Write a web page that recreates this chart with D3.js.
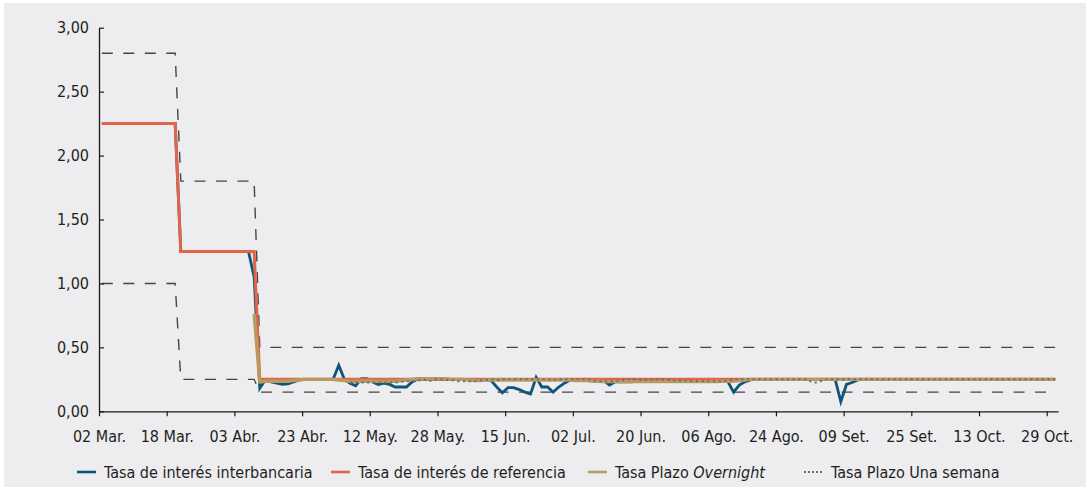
<!DOCTYPE html>
<html>
<head>
<meta charset="utf-8">
<script src="https://cdn.jsdelivr.net/npm/d3@7"></script>
<style>
  html, body { margin: 0; padding: 0; background: #fff; }
  svg { display: block; }
  text { font-family: "Liberation Sans Narrow", "DejaVu Sans Condensed", "Arial Narrow", sans-serif; fill: #231f20; }
</style>
</head>
<body>
<svg id="chart" width="1090" height="489"></svg>
<script>
// tick labels (one every 12 business days)
const xLabels = ["02 Mar.", "18 Mar.", "03 Abr.", "23 Abr.", "12 May.", "28 May.", "15 Jun.", "02 Jul.",
  "20 Jun.", "06 Ago.", "24 Ago.", "09 Set.", "25 Set.", "13 Oct.", "29 Oct."];
const yTicks = [0, 0.5, 1, 1.5, 2, 2.5, 3];

// daily series, 12 values per row
const refRate = [
  2.25, 2.25, 2.25, 2.25, 2.25, 2.25, 2.25, 2.25, 2.25, 2.25, 2.25, 2.25,
  2.25, 2.25, 1.25, 1.25, 1.25, 1.25, 1.25, 1.25, 1.25, 1.25, 1.25, 1.25,
  1.25, 1.25, 1.25, 1.25, 0.25, 0.25, 0.25, 0.25, 0.25, 0.25, 0.25, 0.25,
  0.25, 0.25, 0.25, 0.25, 0.25, 0.25, 0.25, 0.25, 0.25, 0.25, 0.25, 0.25,
  0.25, 0.25, 0.25, 0.25, 0.25, 0.25, 0.25, 0.25, 0.25, 0.25, 0.25, 0.25,
  0.25, 0.25, 0.25, 0.25, 0.25, 0.25, 0.25, 0.25, 0.25, 0.25, 0.25, 0.25,
  0.25, 0.25, 0.25, 0.25, 0.25, 0.25, 0.25, 0.25, 0.25, 0.25, 0.25, 0.25,
  0.25, 0.25, 0.25, 0.25, 0.25, 0.25, 0.25, 0.25, 0.25, 0.25, 0.25, 0.25,
  0.25, 0.25, 0.25, 0.25, 0.25, 0.25, 0.25, 0.25, 0.25, 0.25, 0.25, 0.25,
  0.25, 0.25, 0.25, 0.25, 0.25, 0.25, 0.25, 0.25, 0.25, 0.25, 0.25, 0.25,
  0.25, 0.25, 0.25, 0.25, 0.25, 0.25, 0.25, 0.25, 0.25, 0.25, 0.25, 0.25,
  0.25, 0.25, 0.25, 0.25, 0.25, 0.25, 0.25, 0.25, 0.25, 0.25, 0.25, 0.25,
  0.25, 0.25, 0.25, 0.25, 0.25, 0.25, 0.25, 0.25, 0.25, 0.25, 0.25, 0.25,
  0.25, 0.25, 0.25, 0.25, 0.25, 0.25, 0.25, 0.25, 0.25, 0.25, 0.25, 0.25,
  0.25, 0.25
];

const corridorUp = [
  2.80, 2.80, 2.80, 2.80, 2.80, 2.80, 2.80, 2.80, 2.80, 2.80, 2.80, 2.80,
  2.80, 2.80, 1.80, 1.80, 1.80, 1.80, 1.80, 1.80, 1.80, 1.80, 1.80, 1.80,
  1.80, 1.80, 1.80, 1.80, 0.50, 0.50, 0.50, 0.50, 0.50, 0.50, 0.50, 0.50,
  0.50, 0.50, 0.50, 0.50, 0.50, 0.50, 0.50, 0.50, 0.50, 0.50, 0.50, 0.50,
  0.50, 0.50, 0.50, 0.50, 0.50, 0.50, 0.50, 0.50, 0.50, 0.50, 0.50, 0.50,
  0.50, 0.50, 0.50, 0.50, 0.50, 0.50, 0.50, 0.50, 0.50, 0.50, 0.50, 0.50,
  0.50, 0.50, 0.50, 0.50, 0.50, 0.50, 0.50, 0.50, 0.50, 0.50, 0.50, 0.50,
  0.50, 0.50, 0.50, 0.50, 0.50, 0.50, 0.50, 0.50, 0.50, 0.50, 0.50, 0.50,
  0.50, 0.50, 0.50, 0.50, 0.50, 0.50, 0.50, 0.50, 0.50, 0.50, 0.50, 0.50,
  0.50, 0.50, 0.50, 0.50, 0.50, 0.50, 0.50, 0.50, 0.50, 0.50, 0.50, 0.50,
  0.50, 0.50, 0.50, 0.50, 0.50, 0.50, 0.50, 0.50, 0.50, 0.50, 0.50, 0.50,
  0.50, 0.50, 0.50, 0.50, 0.50, 0.50, 0.50, 0.50, 0.50, 0.50, 0.50, 0.50,
  0.50, 0.50, 0.50, 0.50, 0.50, 0.50, 0.50, 0.50, 0.50, 0.50, 0.50, 0.50,
  0.50, 0.50, 0.50, 0.50, 0.50, 0.50, 0.50, 0.50, 0.50, 0.50, 0.50, 0.50,
  0.50, 0.50
];

const corridorLow = [
  1.00, 1.00, 1.00, 1.00, 1.00, 1.00, 1.00, 1.00, 1.00, 1.00, 1.00, 1.00,
  1.00, 1.00, 0.25, 0.25, 0.25, 0.25, 0.25, 0.25, 0.25, 0.25, 0.25, 0.25,
  0.25, 0.25, 0.25, 0.25, 0.15, 0.15, 0.15, 0.15, 0.15, 0.15, 0.15, 0.15,
  0.15, 0.15, 0.15, 0.15, 0.15, 0.15, 0.15, 0.15, 0.15, 0.15, 0.15, 0.15,
  0.15, 0.15, 0.15, 0.15, 0.15, 0.15, 0.15, 0.15, 0.15, 0.15, 0.15, 0.15,
  0.15, 0.15, 0.15, 0.15, 0.15, 0.15, 0.15, 0.15, 0.15, 0.15, 0.15, 0.15,
  0.15, 0.15, 0.15, 0.15, 0.15, 0.15, 0.15, 0.15, 0.15, 0.15, 0.15, 0.15,
  0.15, 0.15, 0.15, 0.15, 0.15, 0.15, 0.15, 0.15, 0.15, 0.15, 0.15, 0.15,
  0.15, 0.15, 0.15, 0.15, 0.15, 0.15, 0.15, 0.15, 0.15, 0.15, 0.15, 0.15,
  0.15, 0.15, 0.15, 0.15, 0.15, 0.15, 0.15, 0.15, 0.15, 0.15, 0.15, 0.15,
  0.15, 0.15, 0.15, 0.15, 0.15, 0.15, 0.15, 0.15, 0.15, 0.15, 0.15, 0.15,
  0.15, 0.15, 0.15, 0.15, 0.15, 0.15, 0.15, 0.15, 0.15, 0.15, 0.15, 0.15,
  0.15, 0.15, 0.15, 0.15, 0.15, 0.15, 0.15, 0.15, 0.15, 0.15, 0.15, 0.15,
  0.15, 0.15, 0.15, 0.15, 0.15, 0.15, 0.15, 0.15, 0.15, 0.15, 0.15, 0.15,
  0.15, 0.15
];

const interbank = [
  2.25, 2.25, 2.25, 2.25, 2.25, 2.25, 2.25, 2.25, 2.25, 2.25, 2.25, 2.25,
  2.25, 2.25, 1.25, 1.25, 1.25, 1.25, 1.25, 1.25, 1.25, 1.25, 1.25, 1.25,
  1.25, 1.25, 1.25, 1.05, 0.18, 0.245, 0.23, 0.22, 0.21, 0.215, 0.23, 0.245,
  0.25, 0.25, 0.25, 0.25, 0.25, 0.25, 0.36, 0.25, 0.22, 0.20, 0.255, 0.255,
  0.23, 0.21, 0.22, 0.21, 0.19, 0.19, 0.19, 0.23, 0.25, 0.25, 0.25, 0.25,
  0.25, 0.25, 0.25, 0.25, 0.25, 0.25, 0.25, 0.25, 0.25, 0.24, 0.19, 0.145,
  0.185, 0.185, 0.17, 0.15, 0.135, 0.265, 0.19, 0.19, 0.15, 0.19, 0.22, 0.245,
  0.245, 0.245, 0.245, 0.245, 0.245, 0.24, 0.205, 0.23, 0.23, 0.23, 0.23, 0.245,
  0.245, 0.245, 0.245, 0.245, 0.245, 0.245, 0.245, 0.245, 0.245, 0.245, 0.245, 0.245,
  0.245, 0.245, 0.245, 0.23, 0.15, 0.205, 0.23, 0.245, 0.25, 0.25, 0.25, 0.25,
  0.25, 0.25, 0.25, 0.25, 0.25, 0.25, 0.25, 0.25, 0.25, 0.25, 0.25, 0.075,
  0.21, 0.225, 0.245, 0.25, 0.25, 0.25, 0.25, 0.25, 0.25, 0.25, 0.25, 0.25,
  0.25, 0.25, 0.25, 0.25, 0.25, 0.25, 0.25, 0.25, 0.25, 0.25, 0.25, 0.25,
  0.25, 0.25, 0.25, 0.25, 0.25, 0.25, 0.25, 0.25, 0.25, 0.25, 0.25, 0.25,
  0.25, 0.25
];

const overnight = [
  null, null, null, null, null, null, null, null, null, null, null, null,
  null, null, null, null, null, null, null, null, null, null, null, null,
  null, null, null, 0.76, 0.23, 0.235, 0.235, 0.235, 0.235, 0.235, 0.24, 0.245,
  0.25, 0.25, 0.25, 0.25, 0.25, 0.25, 0.245, 0.24, 0.235, 0.235, 0.235, 0.235,
  0.235, 0.235, 0.235, 0.235, 0.235, 0.24, 0.245, 0.25, 0.255, 0.255, 0.255, 0.255,
  0.255, 0.255, 0.25, 0.25, 0.25, 0.245, 0.24, 0.24, 0.245, 0.245, 0.245, 0.245,
  0.245, 0.245, 0.245, 0.245, 0.245, 0.245, 0.245, 0.245, 0.245, 0.245, 0.245, 0.245,
  0.24, 0.24, 0.24, 0.235, 0.235, 0.232, 0.232, 0.232, 0.232, 0.232, 0.232, 0.232,
  0.232, 0.232, 0.232, 0.232, 0.232, 0.232, 0.232, 0.232, 0.232, 0.232, 0.232, 0.232,
  0.232, 0.232, 0.235, 0.235, 0.235, 0.24, 0.245, 0.25, 0.25, 0.25, 0.25, 0.25,
  0.25, 0.25, 0.25, 0.25, 0.25, 0.25, 0.25, 0.25, 0.25, 0.25, 0.25, 0.25,
  0.25, 0.25, 0.25, 0.25, 0.25, 0.25, 0.25, 0.25, 0.25, 0.25, 0.25, 0.25,
  0.25, 0.25, 0.25, 0.25, 0.25, 0.25, 0.25, 0.25, 0.25, 0.25, 0.25, 0.25,
  0.25, 0.25, 0.25, 0.25, 0.25, 0.25, 0.25, 0.25, 0.25, 0.25, 0.25, 0.25,
  0.25, 0.25
];

const oneWeek = [
  null, null, null, null, null, null, null, null, null, null, null, null,
  null, null, null, null, null, null, null, null, null, null, null, null,
  null, null, null, null, null, null, null, null, null, null, null, null,
  null, null, null, null, null, null, null, null, 0.225, 0.225, 0.225, 0.225,
  0.225, 0.225, 0.225, 0.225, 0.225, 0.23, 0.235, 0.235, 0.24, 0.25, 0.235, 0.25,
  0.25, 0.245, 0.245, 0.235, 0.235, 0.235, 0.235, 0.24, 0.245, 0.25, 0.245, 0.25,
  0.25, 0.25, 0.25, 0.25, 0.25, 0.25, 0.25, 0.25, 0.245, 0.25, 0.25, 0.25,
  0.25, 0.25, 0.25, 0.245, 0.235, 0.235, 0.235, 0.235, 0.24, 0.25, 0.25, 0.25,
  0.245, 0.245, 0.25, 0.25, 0.245, 0.245, 0.24, 0.24, 0.24, 0.235, 0.235, 0.235,
  0.235, 0.235, 0.235, 0.24, 0.25, 0.25, 0.25, 0.25, 0.25, 0.25, 0.25, 0.25,
  0.25, 0.25, 0.25, 0.25, 0.25, 0.25, 0.225, 0.225, 0.25, 0.25, 0.25, 0.25,
  0.25, 0.25, 0.25, 0.25, 0.25, 0.25, 0.25, 0.25, 0.25, 0.25, 0.25, 0.25,
  0.25, 0.25, 0.25, 0.25, 0.25, 0.25, 0.25, 0.25, 0.25, 0.25, 0.25, 0.25,
  0.25, 0.25, 0.25, 0.25, 0.25, 0.25, 0.25, 0.25, 0.25, 0.25, 0.25, 0.25,
  0.25, 0.25
];

const svg = d3.select("#chart");

// background panel
svg.append("rect")
  .attr("x", 4).attr("y", 3)
  .attr("width", 1082).attr("height", 484)
  .attr("fill", "#ededf0");

const nDays = refRate.length;
const x = d3.scaleLinear().domain([0, nDays]).range([99, 1058]);
const y = d3.scaleLinear().domain([0, 3]).range([411.3, 27.7]);

const fmt = d3.formatLocale({ decimal: ",", thousands: ".", grouping: [3], currency: ["", ""] }).format(".2f");

// lines, points sit in the middle of each day slot
const line = d3.line()
  .defined(d => d != null)
  .x((d, i) => x(i + 0.5))
  .y(d => y(d));

const series = [
  { values: corridorUp, color: "#454545", width: 1.4, dash: "11,10.5" },
  { values: corridorLow, color: "#454545", width: 1.4, dash: "11,10.5" },
  { values: interbank, color: "#0f5479", width: 2.8 },
  { values: refRate, color: "#e0654b", width: 3 },
  { values: overnight, color: "#b99a5f", width: 3.4 },
  { values: oneWeek, color: "#6f6f72", width: 2, dash: "2.2,3.5" }
];

svg.append("g").selectAll("path")
  .data(series)
  .enter()
  .append("path")
  .attr("fill", "none")
  .attr("stroke", d => d.color)
  .attr("stroke-width", d => d.width)
  .attr("stroke-dasharray", d => d.dash || null)
  .attr("stroke-linejoin", "miter")
  .attr("d", d => line(d.values));

// axes
const yAxis = svg.append("g")
  .attr("transform", `translate(${x(0)},0)`)
  .call(d3.axisLeft(y).tickValues(yTicks).tickFormat(fmt).tickSize(-5).tickSizeOuter(0).tickPadding(10));

const xAxis = svg.append("g")
  .attr("transform", `translate(0,${y(0)})`)
  .call(d3.axisBottom(x).tickValues(d3.range(0, nDays, 12)).tickFormat((d, i) => xLabels[i]).tickSize(5).tickSizeOuter(0).tickPadding(14));

[yAxis, xAxis].forEach(a => {
  a.select(".domain").attr("stroke", "#1a1a1a").attr("stroke-width", 1.3);
  a.selectAll(".tick line").attr("stroke", "#1a1a1a").attr("stroke-width", 1.2);
  a.selectAll("text").style("font-size", "16px").attr("fill", "#231f20");
});

// legend
const legend = [
  { label: "Tasa de interés interbancaria", color: "#0f5479", x: 77, width: 2.6 },
  { label: "Tasa de interés de referencia", color: "#e0654b", x: 331, width: 2.6 },
  { label: "Tasa Plazo ", italic: "Overnight", color: "#b99a5f", x: 588, width: 2.6 },
  { label: "Tasa Plazo Una semana", color: "#6f6f72", x: 804, width: 1.8, dash: "2,2" }
];

const lg = svg.append("g").attr("transform", "translate(0,472)");
const item = lg.selectAll("g").data(legend).enter().append("g")
  .attr("transform", d => `translate(${d.x},0)`);

item.append("line")
  .attr("x1", 0).attr("x2", 19)
  .attr("stroke", d => d.color)
  .attr("stroke-width", d => d.width)
  .attr("stroke-dasharray", d => d.dash || null);

const lt = item.append("text")
  .attr("x", 27)
  .attr("dy", "0.35em")
  .style("font-size", "16px");
lt.append("tspan").text(d => d.label);
lt.filter(d => d.italic).append("tspan").style("font-style", "italic").text(d => d.italic);
</script>
</body>
</html>
